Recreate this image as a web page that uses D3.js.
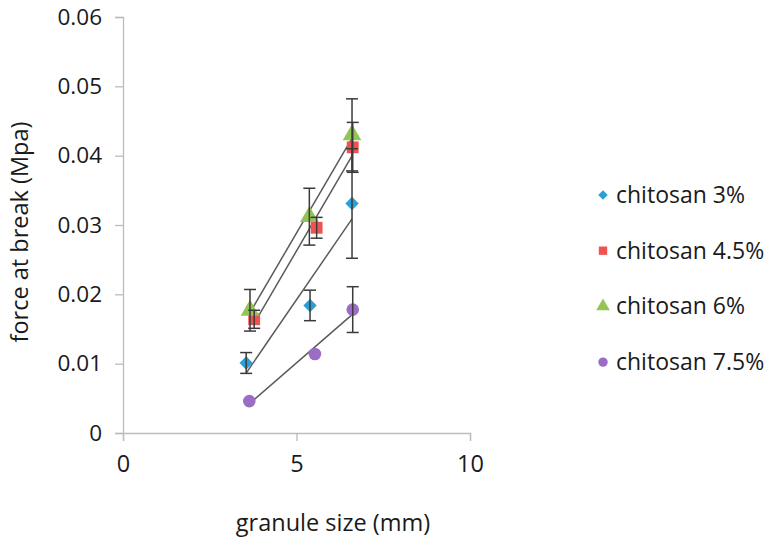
<!DOCTYPE html>
<html lang="en">
<head>
    <meta charset="UTF-8">
    <title>Force at break vs granule size</title>
    <script src="https://d3js.org/d3.v7.min.js"></script>
    <style>
        body { margin: 0; background: #ffffff; }
        svg text { font-family: "Open Sans", sans-serif; fill: #1a1a1a; }
    </style>
</head>
<body>
<div id="chart"></div>
<script>
    // series names (legend order)
    const seriesNames = ["chitosan 3%", "chitosan 4.5%", "chitosan 6%", "chitosan 7.5%"];
    const seriesColors = ["#2b9ed8", "#ee5353", "#93c556", "#9b6dc4"];

    // granule size (mm) of each point, per series
    const xValues = [
        [3.55, 5.39, 6.6],
        [3.78, 5.58, 6.62],
        [3.66, 5.37, 6.6],
        [3.64, 5.53, 6.62]
    ];
    // force at break (Mpa)
    const yValues = [
        [0.0101, 0.0184, 0.0331],
        [0.0164, 0.0296, 0.0412],
        [0.0177, 0.0312, 0.0430],
        [0.0046, 0.0114, 0.0178]
    ];
    // error bar half widths (0 = no bar)
    const yErrors = [
        [0.0015, 0.0022, 0.0079],
        [0.0013, 0.0015, 0.0036],
        [0.0030, 0.0041, 0.0052],
        [0, 0, 0.0033]
    ];

    const xTicks = [0, 5, 10];
    const yTicks = [0, 0.01, 0.02, 0.03, 0.04, 0.05, 0.06];

    const width = 768, height = 543;
    const plot = { left: 123, right: 470, top: 17, bottom: 433 };
    const fontSize = "23.5px";

    const x = d3.scaleLinear().domain([0, 10]).range([plot.left, plot.right]);
    const y = d3.scaleLinear().domain([0, 0.06]).range([plot.bottom, plot.top]);

    const svg = d3.select("#chart").append("svg")
        .attr("width", width)
        .attr("height", height);

    // axes
    const axisColor = "#bcbcbc";
    const gx = svg.append("g")
        .attr("transform", `translate(0,${plot.bottom})`)
        .call(d3.axisBottom(x).tickValues(xTicks).tickSize(8).tickPadding(14).tickFormat(d3.format("d")));
    const gy = svg.append("g")
        .attr("transform", `translate(${plot.left},0)`)
        .call(d3.axisLeft(y).tickValues(yTicks).tickSize(8).tickPadding(13)
            .tickFormat(d => d === 0 ? "0" : d3.format(".2f")(d)));
    [gx, gy].forEach(g => {
        g.select(".domain").attr("stroke", axisColor).attr("stroke-width", 1.3);
        g.selectAll(".tick line").attr("stroke", axisColor).attr("stroke-width", 1.3);
        g.selectAll(".tick text").style("font-size", fontSize).attr("fill", "#1a1a1a");
    });
    gy.selectAll(".tick text").style("font-size", "22.5px");

    // axis titles
    svg.append("text")
        .attr("x", 333).attr("y", 531)
        .attr("text-anchor", "middle")
        .style("font-size", fontSize)
        .text("granule size (mm)");
    svg.append("text")
        .attr("transform", "translate(28,232) rotate(-90)")
        .attr("text-anchor", "middle")
        .style("font-size", fontSize)
        .text("force at break (Mpa)");

    // least squares trend line for each series
    function fit(xs, ys) {
        const mx = d3.mean(xs), my = d3.mean(ys);
        const sxy = d3.sum(xs, (v, i) => (v - mx) * (ys[i] - my));
        const sxx = d3.sum(xs, v => (v - mx) * (v - mx));
        const b = sxy / sxx;
        return v => my + b * (v - mx);
    }

    const trend = svg.append("g");
    seriesNames.forEach((name, s) => {
        const f = fit(xValues[s], yValues[s]);
        const [x0, x1] = d3.extent(xValues[s]);
        trend.append("line")
            .attr("x1", x(x0)).attr("y1", y(f(x0)))
            .attr("x2", x(x1)).attr("y2", y(f(x1)))
            .attr("stroke", "#5a5a5a")
            .attr("stroke-width", 1.5);
    });

    // markers
    const symbols = [
        d3.symbol().type(d3.symbolSquare).size(90),
        d3.symbol().type(d3.symbolSquare).size(140),
        d3.symbol().type(d3.symbolTriangle).size(150),
        d3.symbol().type(d3.symbolCircle).size(125)
    ];
    const legendSymbols = [
        d3.symbol().type(d3.symbolSquare).size(45),
        d3.symbol().type(d3.symbolSquare).size(70),
        d3.symbol().type(d3.symbolTriangle).size(80),
        d3.symbol().type(d3.symbolCircle).size(70)
    ];
    const rot = s => s === 0 ? " rotate(45)" : "";

    const marks = svg.append("g");
    seriesNames.forEach((name, s) => {
        const pts = xValues[s].map((v, i) => ({ x: v, y: yValues[s][i], e: yErrors[s][i] }));
        marks.append("g").selectAll("path")
            .data(pts)
            .join("path")
            .attr("transform", d => `translate(${x(d.x)},${y(d.y)})${rot(s)}`)
            .attr("d", symbols[s]())
            .attr("fill", seriesColors[s]);
    });

    // error bars drawn over the markers
    const bars = svg.append("g")
        .attr("stroke", "#3a3a3a")
        .attr("stroke-width", 1.5);
    seriesNames.forEach((name, s) => {
        xValues[s].forEach((v, i) => {
            if (!yErrors[s][i]) return;
            const cx = x(v), lo = y(yValues[s][i] - yErrors[s][i]), hi = y(yValues[s][i] + yErrors[s][i]);
            bars.append("line").attr("x1", cx).attr("x2", cx).attr("y1", lo).attr("y2", hi);
            bars.append("line").attr("x1", cx - 6).attr("x2", cx + 6).attr("y1", lo).attr("y2", lo);
            bars.append("line").attr("x1", cx - 6).attr("x2", cx + 6).attr("y1", hi).attr("y2", hi);
        });
    });

    // legend
    const legend = svg.append("g").attr("transform", "translate(603,195)");
    seriesNames.forEach((name, s) => {
        const row = legend.append("g").attr("transform", `translate(0,${s * 55.7})`);
        row.append("path")
            .attr("transform", `translate(0,0)${rot(s)}`)
            .attr("d", legendSymbols[s]())
            .attr("fill", seriesColors[s]);
        row.append("text")
            .attr("x", 13).attr("y", 0)
            .attr("dy", "0.35em")
            .style("font-size", "23px")
            .text(name);
    });
</script>
</body>
</html>
